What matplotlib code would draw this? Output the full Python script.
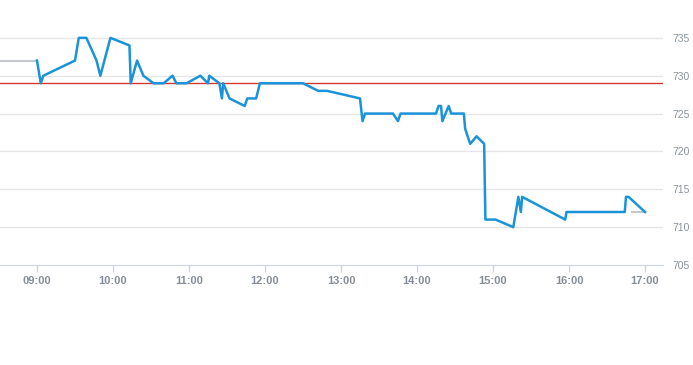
import matplotlib.pyplot as plt

plt.rcParams['font.family'] = ['Liberation Sans', 'DejaVu Sans']

# intraday prices, time as "HH:MM"
times = ["09:00", "09:03", "09:05", "09:30", "09:33", "09:39", "09:47", "09:50",
         "09:58", "10:13", "10:14", "10:19", "10:24", "10:32", "10:40", "10:47",
         "10:50", "10:58", "11:09", "11:15", "11:16", "11:24", "11:26", "11:27",
         "11:32", "11:44", "11:46", "11:53", "11:56", "12:30", "12:42", "12:49",
         "13:15", "13:17", "13:19", "13:41", "13:45", "13:47", "14:15", "14:17",
         "14:19", "14:20", "14:25", "14:27", "14:37", "14:38", "14:42", "14:47",
         "14:53", "14:54", "15:02", "15:16", "15:20", "15:22", "15:23", "15:57",
         "15:58", "16:44", "16:45", "16:47", "17:00"]
prices = [732, 729, 730, 732, 735, 735, 732, 730,
          735, 734, 729, 732, 730, 729, 729, 730,
          729, 729, 730, 729, 730, 729, 727, 729,
          727, 726, 727, 727, 729, 729, 728, 728,
          727, 724, 725, 725, 724, 725, 725, 726,
          726, 724, 726, 725, 725, 723, 721, 722,
          721, 711, 711, 710, 714, 712, 714, 711,
          712, 712, 714, 714, 712]

prev_close = 732
close_price = 712
ref_level = 729

hour_labels = ["09:00", "10:00", "11:00", "12:00", "13:00",
               "14:00", "15:00", "16:00", "17:00"]
y_ticks = [705, 710, 715, 720, 725, 730, 735]


def to_min(s):
    h, m = s.split(":")
    return (int(h) - 9) * 60 + int(m)


x = [to_min(t) for t in times]
xticks = [to_min(t) for t in hour_labels]

fig = plt.figure(figsize=(6.93, 3.65), dpi=100)
ax = fig.add_axes([0, 100 / 365, 663 / 693, 265 / 365])

x_left, x_right = -29.2, 494.2
ax.set_xlim(x_left, x_right)
ax.set_ylim(705, 740)

# grid
for v in y_ticks[1:]:
    ax.axhline(v, color="#e6e6e6", lw=1, zorder=0)

ax.axhline(ref_level, color="#d43a2f", lw=1, zorder=2)

ax.plot([x_left, x[0]], [prev_close, prev_close], color="#c4c8cc", lw=1.5, zorder=2)
ax.plot([to_min("16:50"), x[-1]], [close_price, close_price], color="#c4c8cc", lw=1.5, zorder=2)
ax.plot(x, prices, color="#1a93d9", lw=1.8, zorder=3)

for s in ["top", "left", "right"]:
    ax.spines[s].set_visible(False)
ax.spines["bottom"].set_color("#ccd6eb")

ax.set_xticks(xticks)
ax.set_xticklabels(hour_labels)
ax.tick_params(axis="x", colors="#ccd6eb", length=5, width=1, pad=3)
for lab in ax.get_xticklabels():
    lab.set_color("#858e98")
    lab.set_fontsize(8)
    lab.set_fontweight("bold")

ax.yaxis.tick_right()
ax.set_yticks(y_ticks)
ax.tick_params(axis="y", length=0, pad=7, labelcolor="#8a939c", labelsize=7.5)

fig.savefig("out.png", dpi=100)
